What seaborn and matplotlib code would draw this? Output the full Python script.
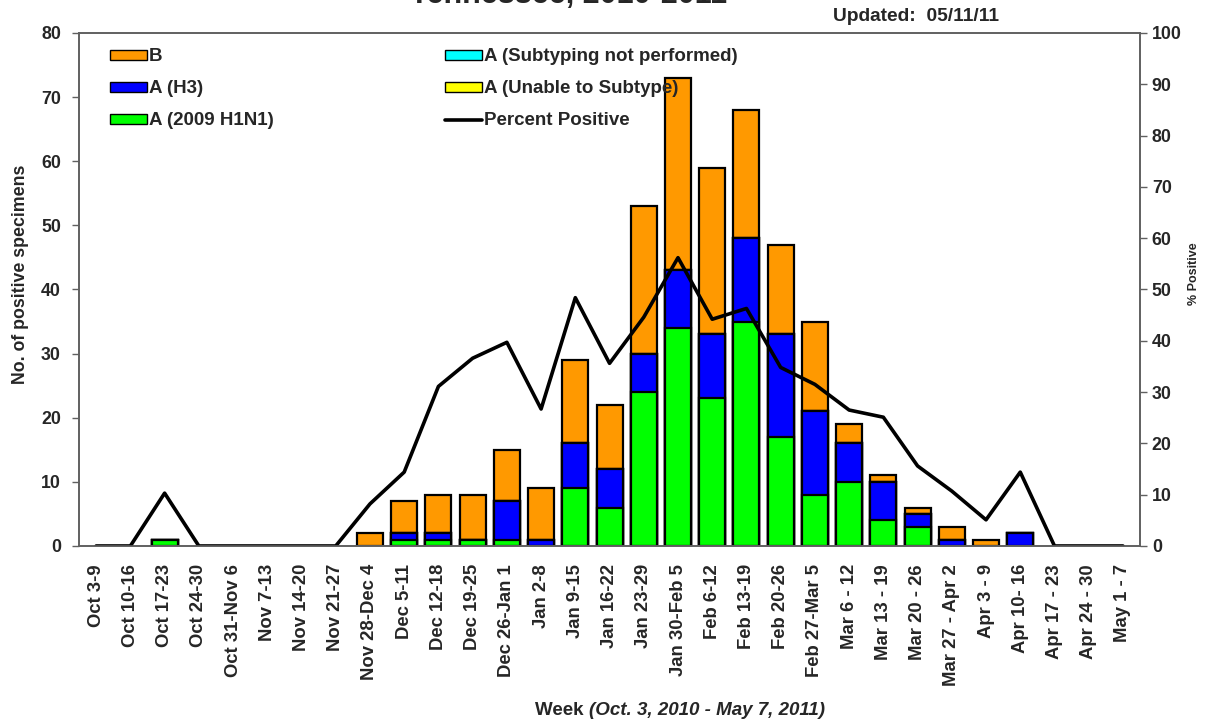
import numpy as np
import pandas as pd
import matplotlib
matplotlib.use("Agg")
import matplotlib.pyplot as plt
import seaborn as sns
from matplotlib.patches import Patch
from matplotlib.lines import Line2D

weeks = ["Oct 3-9", "Oct 10-16", "Oct 17-23", "Oct 24-30", "Oct 31-Nov 6",
         "Nov 7-13", "Nov 14-20", "Nov 21-27", "Nov 28-Dec 4", "Dec 5-11",
         "Dec 12-18", "Dec 19-25", "Dec 26-Jan 1", "Jan 2-8", "Jan 9-15",
         "Jan 16-22", "Jan 23-29", "Jan 30-Feb 5", "Feb 6-12", "Feb 13-19",
         "Feb 20-26", "Feb 27-Mar 5", "Mar 6 - 12", "Mar 13 - 19", "Mar 20 - 26",
         "Mar 27 - Apr 2", "Apr 3 - 9", "Apr 10- 16", "Apr 17 - 23", "Apr 24 - 30",
         "May 1 - 7"]

h1n1 = [0, 0, 1, 0, 0, 0, 0, 0, 0, 1, 1, 1, 1, 0, 9, 6, 24, 34, 23, 35, 17, 8, 10, 4, 3, 0, 0, 0, 0, 0, 0]
h3 = [0, 0, 0, 0, 0, 0, 0, 0, 0, 1, 1, 0, 6, 1, 7, 6, 6, 9, 10, 13, 16, 13, 6, 6, 2, 1, 0, 2, 0, 0, 0]
not_subtyped = [0] * 31
unable = [0] * 31
flu_b = [0, 0, 0, 0, 0, 0, 0, 0, 2, 5, 6, 7, 8, 8, 13, 10, 23, 30, 26, 20, 14, 14, 3, 1, 1, 2, 1, 0, 0, 0, 0]
pct_pos = [0, 0, 10.3, 0, 0, 0, 0, 0, 8.2, 14.4, 31.1, 36.6, 39.7, 26.7, 48.4, 35.6,
           44.6, 56.2, 44.2, 46.3, 34.8, 31.5, 26.5, 25.1, 15.6, 10.7, 5.1, 14.4, 0, 0, 0]

df = pd.DataFrame({"week": weeks, "h1n1": h1n1, "h3": h3, "ns": not_subtyped,
                   "un": unable, "b": flu_b, "pct": pct_pos})
# cumulative tops for layered (stacked) bars
df["top_green"] = df["h1n1"]
df["top_blue"] = df["top_green"] + df["h3"]
df["top_cyan"] = df["top_blue"] + df["ns"]
df["top_yellow"] = df["top_cyan"] + df["un"]
df["top_orange"] = df["top_yellow"] + df["b"]
for c in ["top_green", "top_blue", "top_cyan", "top_yellow", "top_orange"]:
    df[c] = df[c].where(df[c] > 0)

sns.set_style("white")
plt.rcParams["font.family"] = ["Liberation Sans", "DejaVu Sans"]

fig = plt.figure(figsize=(12.05, 7.2), dpi=100)
ax = fig.add_axes([0.0656, 0.2417, 0.8805, 0.7125])

layers = [("top_orange", "#FF9900"), ("top_yellow", "#FFFF00"), ("top_cyan", "#00FFFF"),
          ("top_blue", "#0000FF"), ("top_green", "#00FF00")]
for col, colr in layers:
    sns.barplot(data=df, x="week", y=col, order=weeks, color=colr, saturation=1,
                width=0.76, edgecolor="black", linewidth=1.6, errorbar=None, ax=ax)

ax2 = ax.twinx()
sns.lineplot(x=np.arange(len(weeks)), y=df["pct"], color="black", linewidth=2.6, ax=ax2)

ax.set_xlim(-0.5, len(weeks) - 0.5)
ax.set_ylim(0, 80)
ax2.set_ylim(0, 100)
ax.set_yticks(range(0, 81, 10))
ax2.set_yticks(range(0, 101, 10))
ax.set_xticks(np.arange(len(weeks)))
ax.set_xticklabels(weeks, rotation=90, fontsize=13.3, fontweight="bold")
ax.set_xticks(np.arange(len(weeks) + 1) - 0.5, minor=True)
ax.tick_params(axis="x", which="major", length=0, pad=13)
ax.tick_params(axis="x", which="minor", length=5, width=1, color="#606060", direction="out")
ax.tick_params(axis="y", length=5, width=1, color="#606060", direction="out", left=True, pad=8)
ax2.tick_params(axis="y", length=5, width=1, color="#606060", direction="out", right=True)
for lab in ax.get_yticklabels() + ax2.get_yticklabels():
    lab.set_fontweight("bold")
    lab.set_fontsize(12.8)

for a in (ax, ax2):
    for s in a.spines.values():
        s.set_color("#606060")
        s.set_linewidth(1.2)

ax.set_xlabel("")
ax.set_ylabel("No. of positive specimens", fontsize=12.8, fontweight="bold")
ax.yaxis.set_label_coords(-0.047, 0.53)
ax2.set_ylabel("% Positive", fontsize=9, fontweight="bold")
ax2.yaxis.set_label_coords(1.045, 0.53)

handles = [Patch(facecolor="#FF9900", edgecolor="black"),
           Patch(facecolor="#0000FF", edgecolor="black"),
           Patch(facecolor="#00FF00", edgecolor="black"),
           Patch(facecolor="#00FFFF", edgecolor="black"),
           Patch(facecolor="#FFFF00", edgecolor="black"),
           Line2D([0], [0], color="black", linewidth=2.6)]
labels = ["B", "A (H3)", "A (2009 H1N1)", "A (Subtyping not performed)",
          "A (Unable to Subtype)", "Percent Positive"]
leg = ax2.legend(handles, labels, ncol=2, loc="upper left", bbox_to_anchor=(0.029, 0.97),
                 frameon=False, borderpad=0, borderaxespad=0, handlelength=2.0,
                 handleheight=0.45, handletextpad=0.1, labelspacing=0.8,
                 columnspacing=9.1, prop={"weight": "bold", "size": 13.5})

fig.text(0.472, 0.9955, "Tennessee, 2010-2011", ha="center", va="baseline",
         fontsize=22, fontweight="bold")
fig.text(0.76, 0.977, "Updated:  05/11/11", ha="center", va="center",
         fontsize=13.8, fontweight="bold")
fig.text(0.489, 0.013, "Week ", ha="right", va="center", fontsize=13.5, fontweight="bold")
fig.text(0.489, 0.013, "(Oct. 3, 2010 - May 7, 2011)", ha="left", va="center",
         fontsize=13.5, fontweight="bold", style="italic")

fig.savefig("out.png", dpi=100)
